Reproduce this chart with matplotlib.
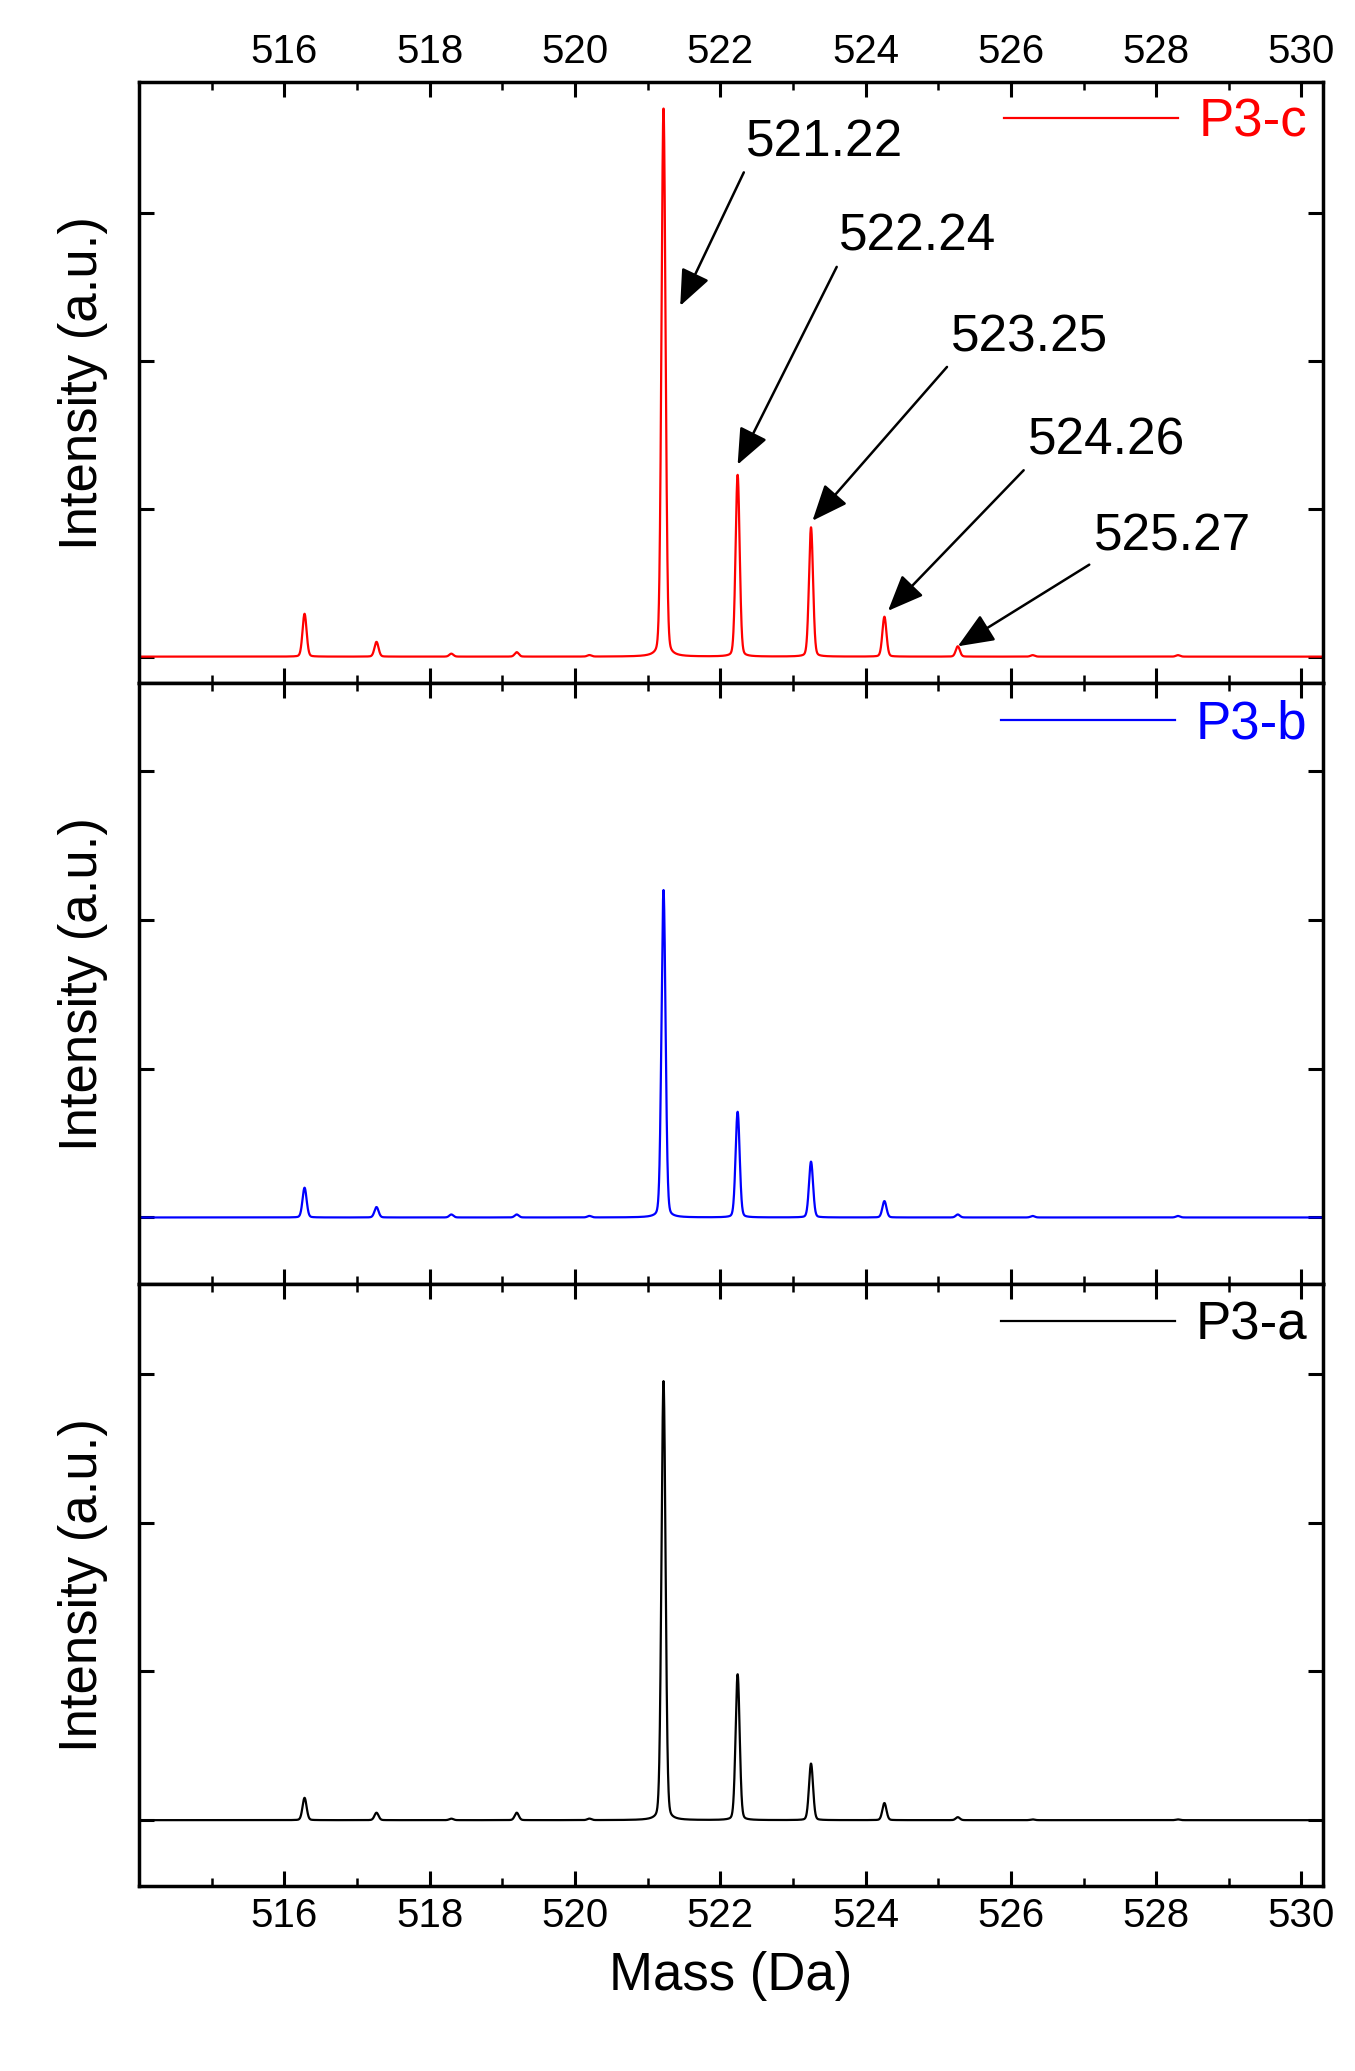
import numpy as np
import matplotlib
matplotlib.use("Agg")
import matplotlib.pyplot as plt

plt.rcParams['font.family'] = ['Liberation Sans', 'DejaVu Sans']

peak_mass = [516.28, 517.27, 518.30, 519.20, 520.20, 521.22, 522.24, 523.25, 524.26, 525.27, 526.3, 528.3]
int_c = [0.29, 0.10, 0.02, 0.03, 0.01, 3.71, 1.23, 0.875, 0.27, 0.07, 0.01, 0.01]
int_b = [0.20, 0.07, 0.02, 0.02, 0.01, 2.20, 0.71, 0.375, 0.11, 0.02, 0.01, 0.01]
int_a = [0.15, 0.05, 0.01, 0.05, 0.01, 2.95, 0.98, 0.38, 0.115, 0.02, 0.005, 0.005]
labels = ["P3-c", "P3-b", "P3-a"]
colors = ["red", "blue", "black"]
ann_mass = [521.22, 522.24, 523.25, 524.26, 525.27]
ann_tip = [(521.45, 2.375), (522.24, 1.30), (523.27, 0.92), (524.31, 0.31), (525.27, 0.07)]
ann_text = [(522.36, 3.48), (523.64, 2.84), (525.18, 2.16), (526.24, 1.46), (527.15, 0.81)]

x = np.linspace(514, 530.3, 10000)
def spectrum(ints):
    y = np.zeros_like(x)
    for m, h in zip(peak_mass, ints):
        w = 0.028
        y += h * (0.85 * np.exp(-0.5 * ((x - m) / w) ** 2) + 0.15 / (1 + ((x - m) / (1.2 * w)) ** 2))
    return y

fig = plt.figure(figsize=(13.55, 20.71), dpi=100)
L, R, T, B = 0.1025, 0.9766, 0.9604, 0.0895
h = (T - B) / 3
ylims = [(-0.18, 3.89), (-0.45, 3.59), (-0.44, 3.6)]
axes = []
for i, ints in enumerate([int_c, int_b, int_a]):
    ax = fig.add_axes([L, T - (i + 1) * h, R - L, h])
    ax.plot(x, spectrum(ints), color=colors[i], lw=1.6, label=labels[i])
    ax.set_xlim(514, 530.3)
    ax.set_ylim(*ylims[i])
    ax.set_yticks([0, 1, 2, 3])
    ax.set_yticklabels([])
    ax.set_xticks(np.arange(516, 531, 2))
    ax.set_xticks(np.arange(515, 531, 1), minor=True)
    ax.tick_params(which='both', direction='in', top=True, right=True, labelsize=29, pad=8)
    ax.tick_params(which='major', length=11, width=2.2)
    ax.tick_params(which='minor', length=6, width=1.8)
    for s in ax.spines.values():
        s.set_linewidth(2.5)
    ax.set_ylabel("Intensity (a.u.)", fontsize=38, labelpad=14)
    leg = ax.legend(loc='upper right', frameon=False, fontsize=38, handlelength=3.3,
                    borderaxespad=0.1, handletextpad=0.4, borderpad=0.2)
    for t in leg.get_texts():
        t.set_color(colors[i])
    if i == 0:
        ax.tick_params(labeltop=True, labelbottom=False)
    elif i == 1:
        ax.tick_params(labelbottom=False)
    axes.append(ax)

for m, tip, txt in zip(ann_mass, ann_tip, ann_text):
    axes[0].annotate(f"{m:.2f}", xy=tip, xytext=txt, fontsize=37, ha='left', va='center',
                     arrowprops=dict(arrowstyle='-|>,head_width=0.25,head_length=0.6', color='black',
                                     lw=1.8, relpos=(0, 0), shrinkA=2, shrinkB=0))

axes[2].set_xlabel("Mass (Da)", fontsize=38, labelpad=12)
fig.savefig("out.png", dpi=100)
